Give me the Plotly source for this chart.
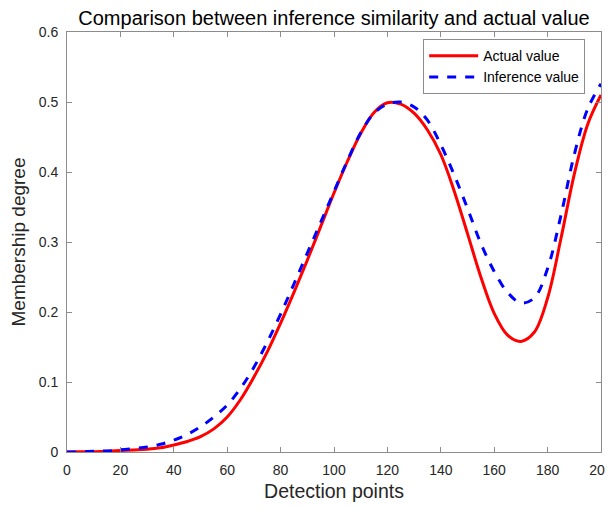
import plotly.graph_objects as go

x_points = [0, 5, 10, 15, 20, 25, 30, 35, 40, 45, 50, 55, 60, 65, 70, 75, 80, 85, 90, 95,
            100, 105, 110, 115, 120, 125, 130, 135, 140, 145, 150, 155, 160, 165, 170, 175,
            180, 185, 190, 195, 200]

actual_value = [0.0, 0.0002, 0.0005, 0.001, 0.002, 0.003, 0.004, 0.006, 0.010, 0.015,
                0.022, 0.033, 0.050, 0.075, 0.107, 0.143, 0.184, 0.228, 0.274, 0.322,
                0.370, 0.415, 0.455, 0.485, 0.499, 0.497, 0.484, 0.460, 0.425, 0.373,
                0.312, 0.250, 0.198, 0.167, 0.158, 0.171, 0.220, 0.305, 0.397, 0.468, 0.510]

inference_value = [0.0, 0.0003, 0.001, 0.0015, 0.003, 0.005, 0.007, 0.011, 0.017, 0.025,
                   0.036, 0.050, 0.067, 0.091, 0.121, 0.157, 0.197, 0.240, 0.284, 0.328,
                   0.372, 0.416, 0.456, 0.484, 0.497, 0.500, 0.493, 0.474, 0.439, 0.396,
                   0.348, 0.298, 0.258, 0.228, 0.213, 0.220, 0.262, 0.338, 0.425, 0.490, 0.526]

x_ticks = [0, 20, 40, 60, 80, 100, 120, 140, 160, 180, 200]
y_ticks = [0, 0.1, 0.2, 0.3, 0.4, 0.5, 0.6]
y_tick_labels = ["0", "0.1", "0.2", "0.3", "0.4", "0.5", "0.6"]

FONT = "Liberation Sans, Arial, sans-serif"
AXIS_COLOR = "#8c8c8c"

# The page body adds an 8px offset, so the figure is sized to fit the 613x508 window.
fig = go.Figure()
fig.add_trace(go.Scatter(x=x_points, y=actual_value, mode="lines", name="Actual value",
                         line=dict(color="#ff0000", width=3, shape="spline", smoothing=1.0)))
fig.add_trace(go.Scatter(x=x_points, y=inference_value, mode="lines", name="Inference value",
                         line=dict(color="#0000ff", width=3, dash="dash", shape="spline", smoothing=1.0)))

fig.update_layout(
    template="none",
    width=605, height=500,
    margin=dict(l=59, r=12, t=24, b=56, autoexpand=False),
    paper_bgcolor="white", plot_bgcolor="white",
    font=dict(family=FONT, color="#262626", size=14),
    title=dict(text="Comparison between inference similarity and actual value",
               x=0.5, xref="paper", xanchor="center", y=1 - 3 / 500, yanchor="top",
               yref="container", automargin=False, pad=dict(t=0, b=0),
               font=dict(size=20, color="#000000", family=FONT)),
    showlegend=True,
    legend=dict(x=0.667, y=0.983, xanchor="left", yanchor="top",
                bgcolor="white", bordercolor="#8c8c8c", borderwidth=1,
                font=dict(size=14, color="#000000", family=FONT),
                itemwidth=49, tracegroupgap=0),
)

fig.update_xaxes(range=[0, 200], tickvals=x_ticks, showgrid=False, zeroline=False,
                 automargin=False,
                 showline=True, linecolor=AXIS_COLOR, linewidth=1, mirror="ticks",
                 ticks="inside", ticklen=5, tickcolor=AXIS_COLOR, ticklabelstandoff=5,
                 tickfont=dict(size=14, color="#262626"),
                 title=dict(text="Detection points", standoff=7,
                            font=dict(size=19.5, color="#262626")))
fig.update_yaxes(range=[0, 0.6], tickvals=y_ticks, ticktext=y_tick_labels, showgrid=False,
                 automargin=False,
                 zeroline=False, showline=True, linecolor=AXIS_COLOR, linewidth=1,
                 mirror="ticks", ticks="inside", ticklen=5, tickcolor=AXIS_COLOR,
                 ticklabelstandoff=5,
                 tickfont=dict(size=14, color="#262626"),
                 title=dict(text="Membership degree", standoff=10,
                            font=dict(size=19, color="#262626")))

fig.write_html("out.html")
